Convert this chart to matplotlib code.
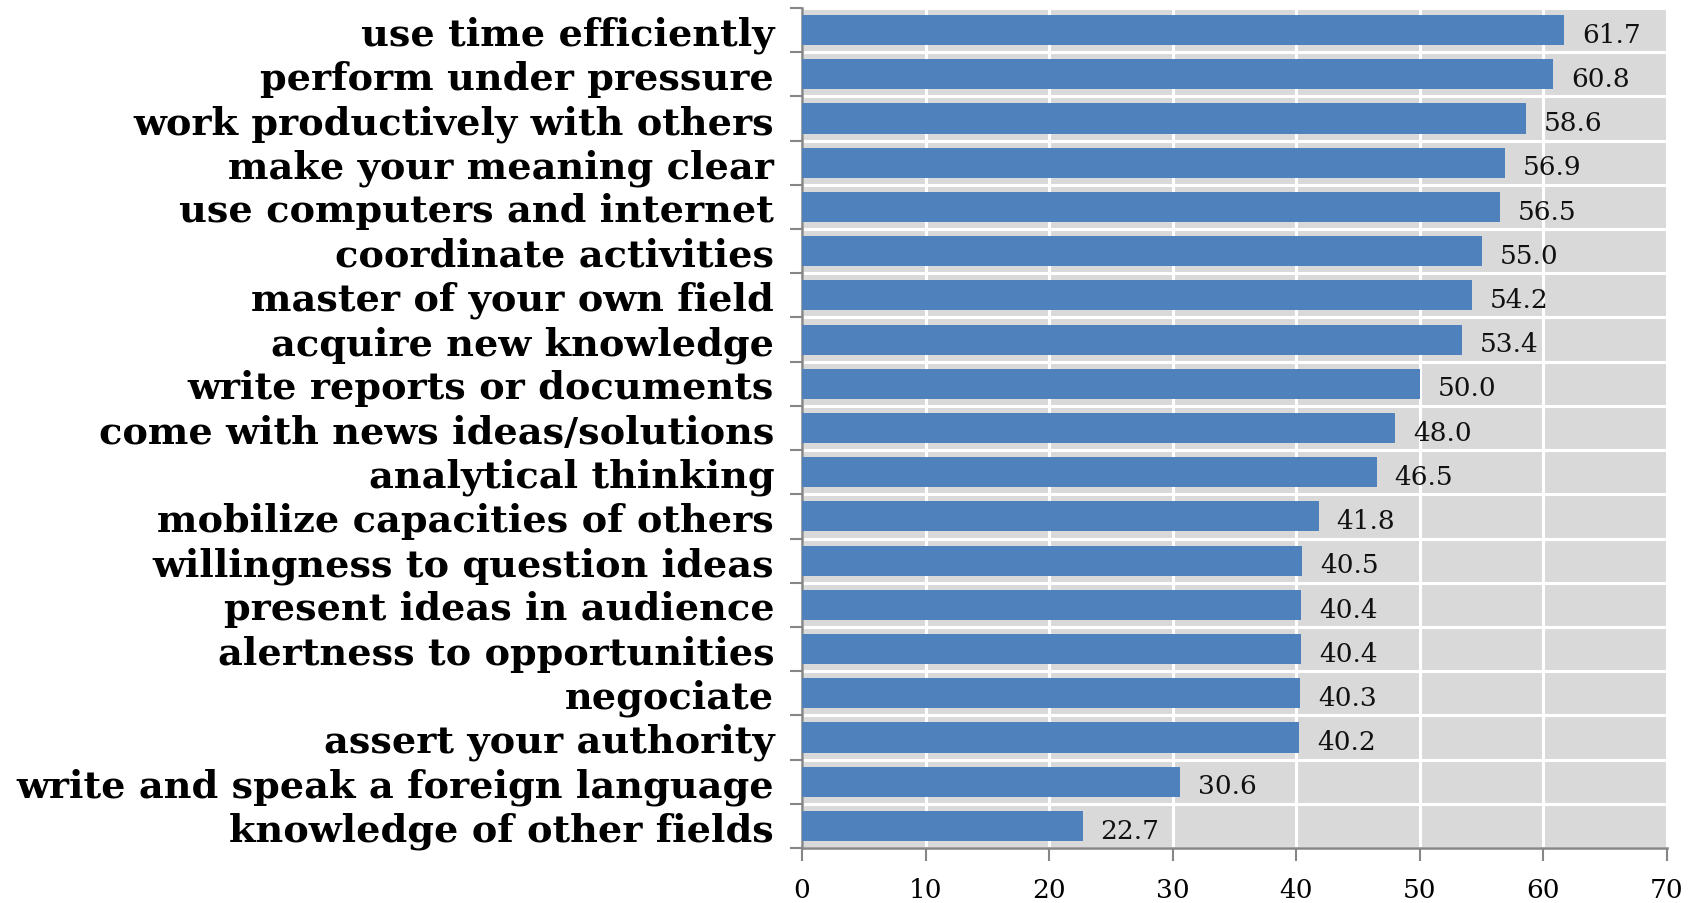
import matplotlib
matplotlib.use("Agg")
import matplotlib.pyplot as plt
import numpy as np

categories = [
    "use time efficiently",
    "perform under pressure",
    "work productively with others",
    "make your meaning clear",
    "use computers and internet",
    "coordinate activities",
    "master of your own field",
    "acquire new knowledge",
    "write reports or documents",
    "come with news ideas/solutions",
    "analytical thinking",
    "mobilize capacities of others",
    "willingness to question ideas",
    "present ideas in audience",
    "alertness to opportunities",
    "negociate",
    "assert your authority",
    "write and speak a foreign language",
    "knowledge of other fields",
]
values = [61.7, 60.8, 58.6, 56.9, 56.5, 55.0, 54.2, 53.4, 50.0, 48.0,
          46.5, 41.8, 40.5, 40.4, 40.4, 40.3, 40.2, 30.6, 22.7]
x_ticks = [0, 10, 20, 30, 40, 50, 60, 70]

BAR = "#4f81bd"
BG = "#d9d9d9"
AXIS = "#868686"

fig = plt.figure(figsize=(17.02, 9.04), dpi=100)
ax = fig.add_axes([802 / 1702, 55 / 904, 865 / 1702, 840 / 904])
ax.set_facecolor(BG)

n = len(categories)
y = np.arange(n)
ax.barh(y, values, height=0.68, color=BAR, zorder=3)

for yi, v in zip(y, values):
    ax.annotate(f"{v:.1f}", (v, yi), xytext=(13, -3), textcoords="offset points",
                ha="left", va="center", fontsize=19, family="DejaVu Serif",
                color="#111111", zorder=4)

ax.set_xlim(0, 70)
ax.set_ylim(n - 0.5, -0.5)
ax.set_xticks(x_ticks)
ax.set_xticklabels([str(t) for t in x_ticks], family="DejaVu Serif", fontsize=19)
ax.set_yticks(y)
ax.set_yticklabels(categories, family="DejaVu Serif", fontweight="bold", fontsize=27.5)
ax.set_yticks(np.arange(n + 1) - 0.5, minor=True)

ax.tick_params(axis="y", which="major", length=0, pad=20)
ax.tick_params(axis="y", which="minor", length=9, width=1.5, color=AXIS)
ax.tick_params(axis="x", which="major", length=9, width=1.5, color=AXIS, pad=12)

ax.grid(axis="x", which="major", color="white", linewidth=2.2, zorder=1)
ax.grid(axis="y", which="minor", color="white", linewidth=2.2, zorder=1)
ax.set_axisbelow(True)

for side in ("top", "right"):
    ax.spines[side].set_visible(False)
for side in ("left", "bottom"):
    ax.spines[side].set_color(AXIS)
    ax.spines[side].set_linewidth(1.8)

fig.savefig("out.png", dpi=100, facecolor="white")
